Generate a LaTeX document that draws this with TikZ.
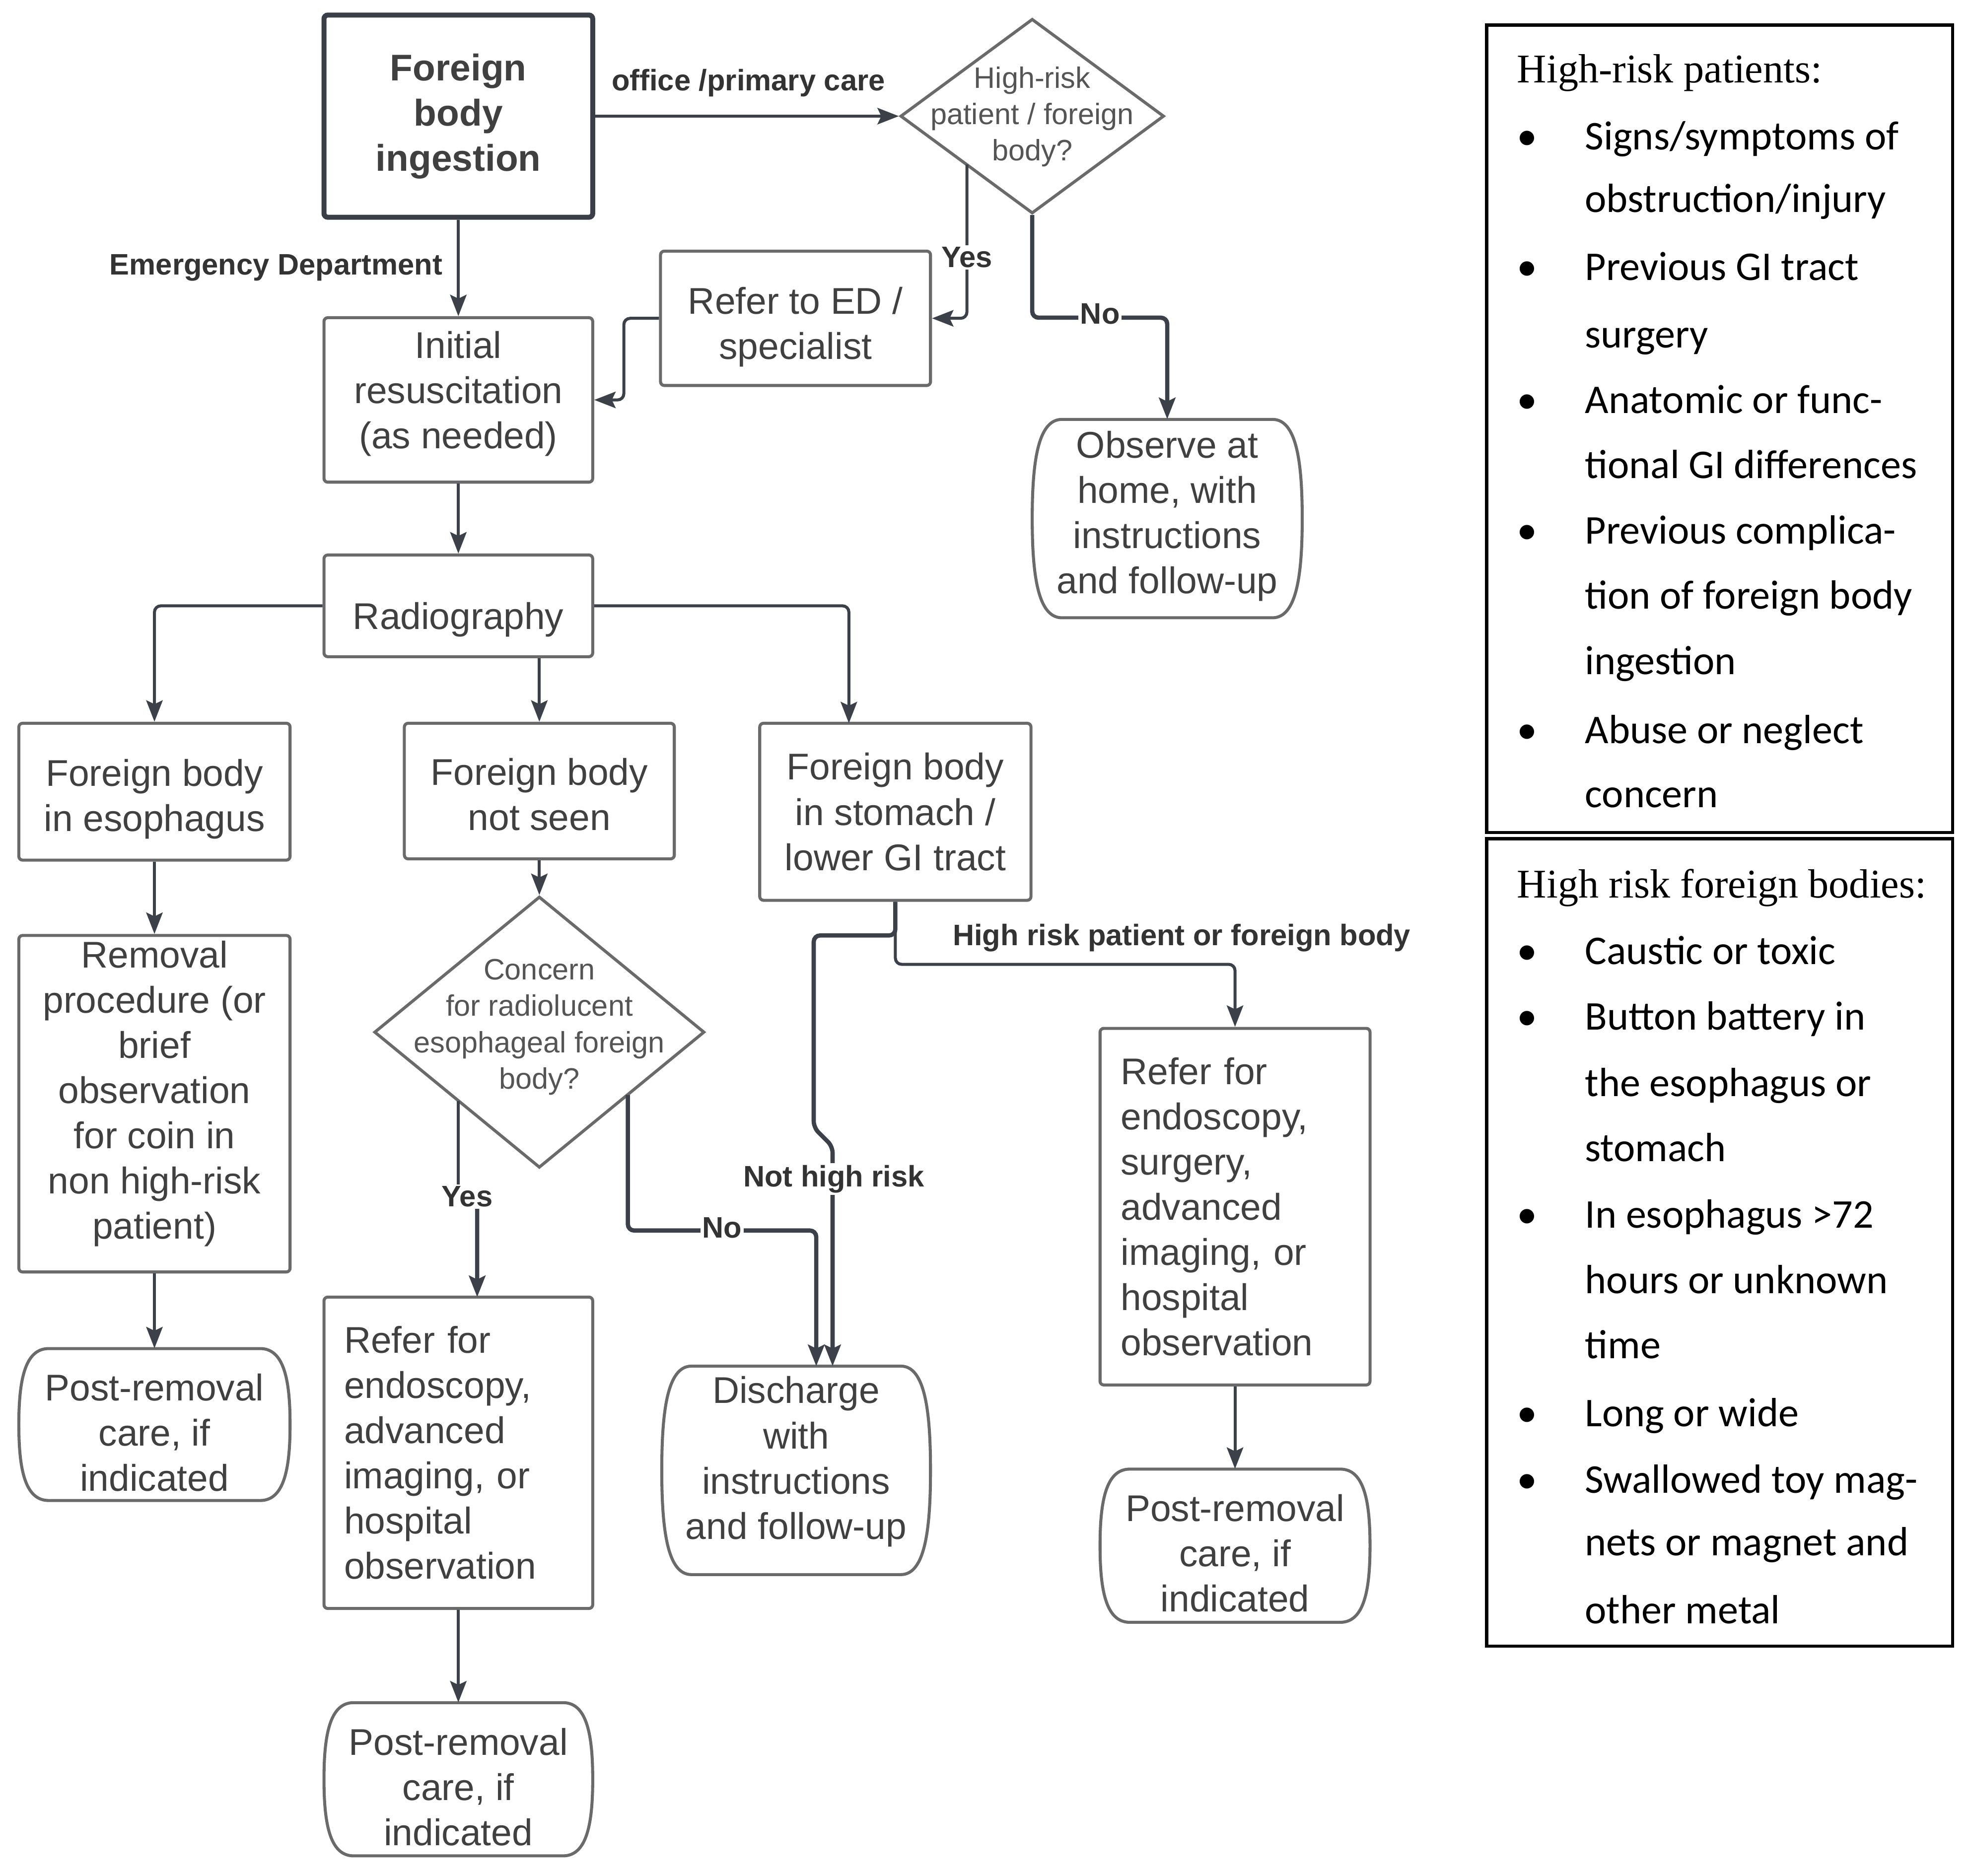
\documentclass[tikz,border=0pt]{standalone}
\usepackage{fontspec}
\setmainfont{Liberation Sans}
\newfontfamily\calfont{Carlito}
\newfontfamily\serfont{Liberation Serif}
\usetikzlibrary{shapes.geometric,arrows.meta,calc}
\definecolor{txt}{HTML}{404040}
\definecolor{lbl}{HTML}{333333}
\definecolor{dtxt}{HTML}{555555}
\definecolor{bord}{HTML}{6A6A6A}
\definecolor{conncol}{HTML}{3C4048}
\definecolor{fbord}{HTML}{3A3F47}
\newcommand\fmain{\fontsize{29.6pt}{36pt}\selectfont}
\newcommand\flbl{\fontsize{23.6pt}{28pt}\selectfont\bfseries}
\newcommand\fdia{\fontsize{23.5pt}{29pt}\selectfont}
\newcommand\fpan{\fontsize{32.5pt}{52pt}\selectfont}
\newcommand\termdraw[4]{%
\draw[bordln] ({#1+0.11*(#3-#1)},#2) -- ({#3-0.11*(#3-#1)},#2)
 .. controls ({#3-0.02*(#3-#1)},#2) and (#3,{#2+0.22*(#4-#2)}) .. (#3,{0.5*(#2+#4)})
 .. controls (#3,{#4-0.22*(#4-#2)}) and ({#3-0.02*(#3-#1)},#4) .. ({#3-0.11*(#3-#1)},#4)
 -- ({#1+0.11*(#3-#1)},#4)
 .. controls ({#1+0.02*(#3-#1)},#4) and (#1,{#4-0.22*(#4-#2)}) .. (#1,{0.5*(#2+#4)})
 .. controls (#1,{#2+0.22*(#4-#2)}) and ({#1+0.02*(#3-#1)},#2) .. ({#1+0.11*(#3-#1)},#2) -- cycle;}
\begin{document}
\begin{tikzpicture}[x=1pt,y=-1pt,
 box/.style={draw=bord, line width=2.4pt, rounded corners=3pt, text=txt, font=\fmain, align=center, inner sep=0pt},
 shp/.style={inner sep=0pt, draw=none},
 ttx/.style={text=txt, font=\fmain, align=center, inner sep=0pt},
 dtx/.style={text=dtxt, font=\fdia, align=center, inner sep=0pt},
 dia/.style={diamond, draw=bord, line width=2.4pt, inner sep=0pt},
 lab/.style={text=lbl, font=\flbl, inner sep=1.5pt, fill=white},
 cn/.style={draw=conncol, line width=2.4pt, rounded corners=5pt, -{Stealth[length=17pt,width=13pt,inset=3pt]}},
 cnh/.style={cn, line width=3.4pt},
 cnl/.style={draw=conncol, line width=2.4pt},
 bordln/.style={draw=bord, line width=2.4pt},
 pan/.style={font=\calfont\fpan, inner sep=0pt, text=black},
 panh/.style={font=\serfont\fpan, inner sep=0pt, text=black},
 panbox/.style={draw=black, line width=2.6pt, inner sep=0pt}
]
\fill[white] (0,0) rectangle (1568,1494);
\useasboundingbox (0,0) rectangle (1568,1494);

% ---- boxes
\node[box, draw=fbord, line width=4pt, font=\fmain\bfseries, minimum width=214pt, minimum height=161pt] (fb) at (365,92.5) {Foreign\\body\\ingestion};
\node[dia, minimum width=210pt, minimum height=155pt] (d1) at (822,92.5) {};
\node[dtx] (d1t) at (822,93) {High-risk\\patient / foreign\\body?};
\node[box, minimum width=214pt, minimum height=131pt] (init) at (365,318.5) {};
\node[ttx] (initt) at (365,313.5) {Initial\\resuscitation\\(as needed)};
\node[box, minimum width=215pt, minimum height=107pt] (refer) at (633.5,253.5) {};
\node[ttx] (refert) at (633.5,260.5) {Refer to ED /\\specialist};
\node[shp, minimum width=215pt, minimum height=158pt] (obs) at (929.5,413) {};
\termdraw{822}{334}{1037}{492}
\node[ttx] (obst) at (929.5,411) {Observe at\\home, with\\instructions\\and follow-up};
\node[box, minimum width=214pt, minimum height=81pt] (radio) at (365,482.5) {};
\node[ttx] (radiot) at (365,493.5) {Radiography};
\node[box, minimum width=216pt, minimum height=109pt] (eso) at (123,630.5) {};
\node[ttx] (esot) at (123,636.5) {Foreign body\\in esophagus};
\node[box, minimum width=215pt, minimum height=108pt] (notseen) at (429.5,630) {};
\node[ttx] (notseent) at (429.5,632.5) {Foreign body\\not seen};
\node[box, minimum width=216pt, minimum height=141pt] (stom) at (713,646.5) {Foreign body\\in stomach /\\lower GI tract};
\node[box, minimum width=216pt, minimum height=268pt] (remov) at (123,879) {};
\node[ttx] (removt) at (123,871) {Removal\\procedure (or\\brief\\observation\\for coin in\\non high-risk\\patient)};
\node[shp, minimum width=216pt, minimum height=121pt] (post1) at (123,1134.5) {};
\termdraw{15}{1074}{231}{1195}
\node[ttx] (post1t) at (123,1141) {Post-removal\\care, if\\indicated};
\node[dia, minimum width=263pt, minimum height=216pt] (d2) at (429.5,822) {};
\node[dtx] (d2t) at (429.5,818) {Concern\\for radiolucent\\esophageal foreign\\body?};
\node[box, minimum width=214pt, minimum height=248pt, text width=182pt, align=left, inner xsep=16pt] (refer2) at (365,1157) {Refer for\\endoscopy,\\advanced\\imaging, or\\hospital\\observation};
\node[shp, minimum width=214pt, minimum height=122pt] (post2) at (365,1417) {};
\termdraw{258}{1356}{472}{1478}
\node[ttx] (post2t) at (365,1423) {Post-removal\\care, if\\indicated};
\node[shp, minimum width=214pt, minimum height=166pt] (disch) at (634,1171) {};
\termdraw{527}{1088}{741}{1254}
\node[ttx] (discht) at (634,1164) {Discharge\\with\\instructions\\and follow-up};
\node[box, minimum width=215pt, minimum height=284pt, text width=182pt, align=left, inner xsep=16.5pt] (refer3) at (983.5,961) {Refer for\\endoscopy,\\surgery,\\advanced\\imaging, or\\hospital\\observation};
\node[shp, minimum width=215pt, minimum height=122pt] (post3) at (983.5,1231) {};
\termdraw{876}{1170}{1091}{1292}
\node[ttx] (post3t) at (983.5,1237) {Post-removal\\care, if\\indicated};

% ---- connectors
\draw[cn] (fb.east) -- (d1.west);
\node[lab, fill=none, anchor=base] (l1) at (596,72) {office /primary care};
\draw[cn] (fb.south) -- (init.north);
\node[lab, fill=none, anchor=base east] (l2) at (354,219) {Emergency Department};
\coordinate (d1y) at (770,131);
\draw[cn] (d1y) |- (refer.east);
\node[lab, anchor=base] (l3) at (770,213) {Yes};
\draw[cn] (refer.west) -- ++(-28,0) |- (init.east);
\draw[cnh] (d1.south) -- (822,253) -| (obs.north);
\node[lab, anchor=base] (l4) at (876,258) {No};
\draw[cn] (init.south) -- (radio.north);
\draw[cn] (radio.west) -| (eso.north);
\draw[cn] (radio.south -| notseen.north) -- (notseen.north);
\coordinate (stomin) at (676,576);
\draw[cn] (radio.east) -| (stomin);
\draw[cn] (eso.south) -- (remov.north);
\draw[cn] (remov.south) -- (post1.north);
\draw[cn] (notseen.south) -- (d2.north);
\coordinate (d2y) at (365,877);
\coordinate (r2in) at (380,1033);
\draw[cnl] (d2y) -- (365,953);
\draw[cnh] (365,953) -- (380,953) -- (r2in);
\node[lab, anchor=base] (l5) at (372,961) {Yes};
\coordinate (d2n) at (500,872);
\coordinate (dis1) at (650,1088);
\draw[cnh] (d2n) |- (575,980) -| (dis1);
\node[lab, anchor=base] (l6) at (575,986) {No};
\coordinate (dis2) at (663,1088);
\draw[cnh] (stom.south) -- (713,745) -- (648,745) -- (648,898) -- (663,913) -- (dis2);
\node[lab, anchor=base] (l7) at (664,945) {Not high risk};
\draw[cn] (stom.south) -- (713,768) -| (refer3.north);
\node[lab, fill=none, anchor=base] (l8) at (941,753) {High risk patient or foreign body};
\draw[cn] (refer3.south) -- (post3.north);
\draw[cn] (refer2.south) -- (post2.north);

% ---- right panels
\node[panbox, minimum width=371pt, minimum height=643pt] (pan1) at (1369.5,341.5) {};
\node[panbox, minimum width=371pt, minimum height=643pt] (pan2) at (1369.5,989.5) {};
\node[panh, anchor=base west] (h1) at (1208,66) {High-risk patients:};
\node[panh, anchor=base west] (h2) at (1208,715) {High risk foreign bodies:};
\foreach \yy/\lin/\bul [count=\i] in {
 109/{Signs/symptoms of}/1, 159/{obstruction/injury}/0, 213/{Previous GI tract}/1,
 267/{surgery}/0, 319/{Anatomic or func-}/1, 371/{tional GI differences}/0,
 423/{Previous complica-}/1, 475/{tion of foreign body}/0, 527/{ingestion}/0,
 582/{Abuse or neglect}/1, 633/{concern}/0,
 758/{Caustic or toxic}/1, 810/{Button battery in}/1, 863/{the esophagus or}/0,
 915/{stomach}/0, 968/{In esophagus >72}/1, 1020/{hours or unknown}/0,
 1072/{time}/0, 1126/{Long or wide}/1, 1179/{Swallowed toy mag-}/1,
 1229/{nets or magnet and}/0, 1283/{other metal}/0}
{
 \node[pan, anchor=base west] (pa\i) at (1262,\yy+10) {\lin};
 \ifnum\bul=1 \node[pan, anchor=base] (pb\i) at (1216,\yy+10) {•};\fi
}
\end{tikzpicture}
\end{document}
